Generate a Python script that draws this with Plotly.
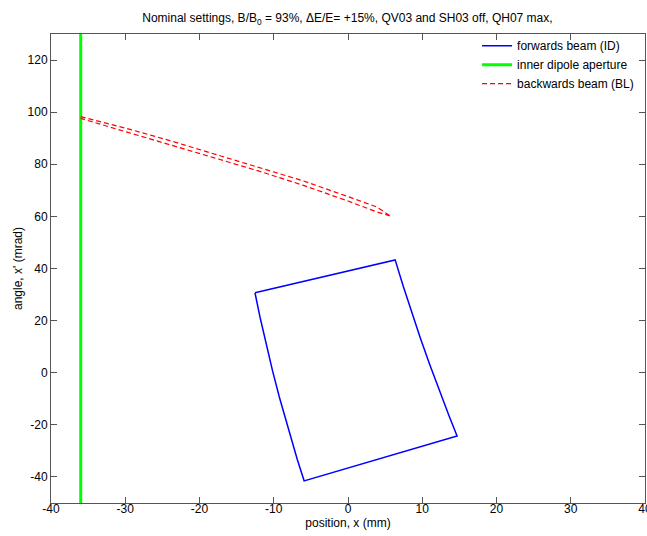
import plotly.graph_objects as go

# ---- data ----
# forwards beam (ID): closed quadrilateral-like contour
fwd_x = [-12.53, -5.0, 1.76, 6.35, 7.43, 8.56, 9.74, 10.98, 12.28, 13.63, 14.69,
         4.4, -5.91, -6.83, -7.88, -9.25, -10.16, -11.01, -11.80, -12.53]
fwd_y = [30.7, 35.7, 40.1, 43.3, 33.3, 23.3, 13.3, 3.3, -6.7, -16.7, -24.3,
         -32.9, -41.5, -33.3, -23.3, -9.3, 0.7, 10.7, 20.7, 30.7]

# inner dipole aperture
ap_x = [-36, -36]
ap_y = [-50, 130]

# backwards beam (BL): thin closed loop
bwd_x = [-36, -30, -24, -18, -12, -6, 0, 3.8, 5.8,
         3.8, 0, -6, -12, -18, -24, -30, -36]
bwd_y = [98.3, 93.9, 89.1, 84.0, 79.0, 73.6, 67.6, 63.7, 60.0,
         61.8, 65.9, 71.9, 77.4, 82.4, 87.5, 92.5, 97.6]

x_ticks = [-40, -30, -20, -10, 0, 10, 20, 30, 40]
x_ticklabels = ["-40", "-30", "-20", "-10", "0", "10", "20", "30", "40"]
y_ticks = [-40, -20, 0, 20, 40, 60, 80, 100, 120]
y_ticklabels = ["-40", "-20", "0", "20", "40", "60", "80", "100", "120"]

FONT = "Liberation Sans, Arial, Helvetica, sans-serif"

fig = go.Figure()
fig.add_trace(go.Scatter(x=fwd_x, y=fwd_y, mode="lines", name="forwards beam (ID)",
                         line=dict(color="#0000ff", width=1.5)))
fig.add_trace(go.Scatter(x=ap_x, y=ap_y, mode="lines", name="inner dipole aperture",
                         line=dict(color="#00ff00", width=3)))
fig.add_trace(go.Scatter(x=bwd_x, y=bwd_y, mode="lines", name="backwards beam (BL)",
                         line=dict(color="#ff0000", width=1.2, dash="5px,3px")))

axis_common = dict(
    showgrid=False, zeroline=False, showline=True, mirror="ticks",
    linecolor="#555555", linewidth=1, ticks="inside", ticklen=6,
    tickcolor="#555555", tickfont=dict(family=FONT, size=12, color="#000000"),
    automargin=False,
)

fig.update_layout(
    width=647, height=536,
    margin=dict(l=51, r=2, t=34, b=33),
    paper_bgcolor="white", plot_bgcolor="white",
    font=dict(family=FONT, size=12, color="#000000"),
    title=dict(text="Nominal settings, B/B<sub>0</sub> = 93%, \u0394E/E= +15%, QV03 and SH03 off, QH07 max,",
               x=0.537, xanchor="center", y=0.966, yanchor="middle",
               font=dict(family=FONT, size=12, color="#000000")),
    xaxis=dict(range=[-40, 40], tickvals=x_ticks, ticktext=x_ticklabels,
               ticklabeloverflow="allow", ticklabelstandoff=-5,
               title=dict(text="position, x (mm)", standoff=0,
                          font=dict(family=FONT, size=12)),
               **axis_common),
    yaxis=dict(range=[-50, 130], tickvals=y_ticks, ticktext=y_ticklabels,
               title=dict(text="angle, x' (mrad)", standoff=2,
                          font=dict(family=FONT, size=12)),
               **axis_common),
    legend=dict(x=0.99, xanchor="right", y=1.006, yanchor="top",
                bgcolor="rgba(0,0,0,0)", borderwidth=0,
                font=dict(family=FONT, size=12), tracegroupgap=0),
    showlegend=True,
)

fig.write_html("out.html")
